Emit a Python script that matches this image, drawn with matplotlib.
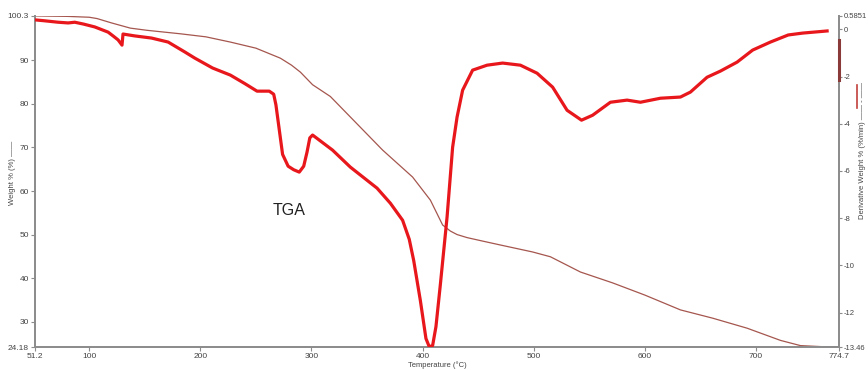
import matplotlib
matplotlib.use("Agg")
import matplotlib.pyplot as plt
from matplotlib.lines import Line2D

plt.rcParams['font.family'] = ['Liberation Sans', 'DejaVu Sans']

# ---- data ----
weight_t = [51.2, 80, 100, 107, 120, 137, 152, 182, 205, 227, 250, 272, 282, 290,
            301, 317, 364, 391, 407, 418, 425, 431, 440, 454, 470, 499, 515, 542,
            571, 600, 632, 661, 692, 722, 740, 760, 774.7]
weight_v = [100.2, 100.1, 99.9, 99.6, 98.6, 97.4, 96.9, 96.1, 95.4, 94.2, 92.8, 90.5,
            88.9, 87.3, 84.4, 81.7, 69.4, 63.2, 57.9, 52.2, 50.8, 50.0, 49.3, 48.5,
            47.6, 46.0, 44.9, 41.4, 38.9, 36.1, 32.7, 30.8, 28.5, 25.7, 24.5, 24.25, 24.2]

deriv_t = [51.2, 60, 72, 81, 87, 95, 105, 117, 122, 126, 129.5, 130.4, 141, 156,
           171, 186, 195, 211, 227, 240, 251, 262, 266, 268, 270, 274, 279, 284, 289,
           293, 296, 298.5, 301, 310, 319, 335, 359, 371, 382, 388, 392, 398, 403, 406,
           409, 412, 416, 422, 427, 431, 436, 445, 458, 472, 488, 503, 517, 530, 543,
           553, 569, 584, 596, 614, 632, 641, 656, 668, 683, 697, 713, 729, 742, 764]
deriv_v = [0.40, 0.36, 0.30, 0.27, 0.30, 0.22, 0.10, -0.12, -0.30, -0.45, -0.67, -0.20,
           -0.28, -0.37, -0.54, -0.96, -1.22, -1.64, -1.94, -2.30, -2.62, -2.62, -2.75,
           -3.2, -3.9, -5.3, -5.8, -5.95, -6.05, -5.8, -5.2, -4.6, -4.48, -4.8, -5.12,
           -5.84, -6.73, -7.37, -8.09, -8.9, -9.8, -11.5, -13.1, -13.45, -13.4, -12.6,
           -10.8, -7.96, -5.0, -3.72, -2.58, -1.73, -1.52, -1.43, -1.52, -1.86, -2.45,
           -3.43, -3.85, -3.64, -3.09, -3.0, -3.09, -2.92, -2.87, -2.66, -2.03, -1.77,
           -1.39, -0.88, -0.54, -0.24, -0.16, -0.07]

x_ticks = [51.2, 100, 200, 300, 400, 500, 600, 700, 774.7]
x_labels = ["51.2", "100", "200", "300", "400", "500", "600", "700", "774.7"]
left_ticks = [24.18, 30, 40, 50, 60, 70, 80, 90, 100.3]
left_labels = ["24.18", "30", "40", "50", "60", "70", "80", "90", "100.3"]
right_ticks = [-13.46, -12, -10, -8, -6, -4, -2, 0, 0.5851]
right_labels = ["-13.46", "-12", "-10", "-8", "-6", "-4", "-2", "0", "0.5851"]

# ---- figure ----
fig = plt.figure(figsize=(8.68, 3.70), dpi=100)
ax = fig.add_axes([35/868, 1-347/370, (839-35)/868, (347-15.5)/370])
ax2 = ax.twinx()

thin_col = "#a5564e"
red_col = "#e8171c"
spine_col = "#8c8c8c"
txt_col = "#444444"

ax.plot(weight_t, weight_v, color=thin_col, lw=0.9, zorder=2)
ax2.plot(deriv_t, deriv_v, color=red_col, lw=2.3, zorder=3, solid_joinstyle="round")

ax.set_xlim(51.2, 774.7)
ax.set_ylim(24.18, 100.3)
ax2.set_ylim(-13.46, 0.5851)

ax.set_xticks(x_ticks)
ax.set_xticklabels(x_labels)
ax.set_yticks(left_ticks)
ax.set_yticklabels(left_labels)
ax2.set_yticks(right_ticks)
ax2.set_yticklabels(right_labels)

for a in (ax, ax2):
    for s in a.spines.values():
        s.set_color(spine_col)
        s.set_linewidth(1.3)
    a.spines["top"].set_visible(False)
    a.tick_params(colors=spine_col, labelcolor=txt_col, labelsize=6, length=3,
                  width=0.8, pad=1.5)
ax2.tick_params(labelsize=5.5, pad=1, length=2.5)

fig.text(0.5 * (35 + 839) / 868, 1 - 365.5/370, "Temperature (°C)", fontsize=5.5,
         color=txt_col, ha="center", va="center")

fig.text(13/868, 1-173/370, "Weight % (%) ——", rotation=90, fontsize=5.5,
         color=txt_col, ha="center", va="center")
fig.text(863/868, 1-150/370, "Derivative Weight % (%/min) —— - ——", rotation=90,
         fontsize=5.5, color=txt_col, ha="center", va="center")
fig.add_artist(Line2D([857/868, 857/868], [1-85/370, 1-108/370],
                      color="#c0403c", lw=1.2, transform=fig.transFigure))
# marker segment on the right axis
fig.add_artist(Line2D([838.5/868, 838.5/868], [1-40/370, 1-80/370],
                      color="#8b3a3a", lw=2.2, transform=fig.transFigure))

ax.text(280, 55.6, "TGA", fontsize=11.5, color="#222222", ha="center", va="center")

fig.savefig("out.png", dpi=100, facecolor="white")
